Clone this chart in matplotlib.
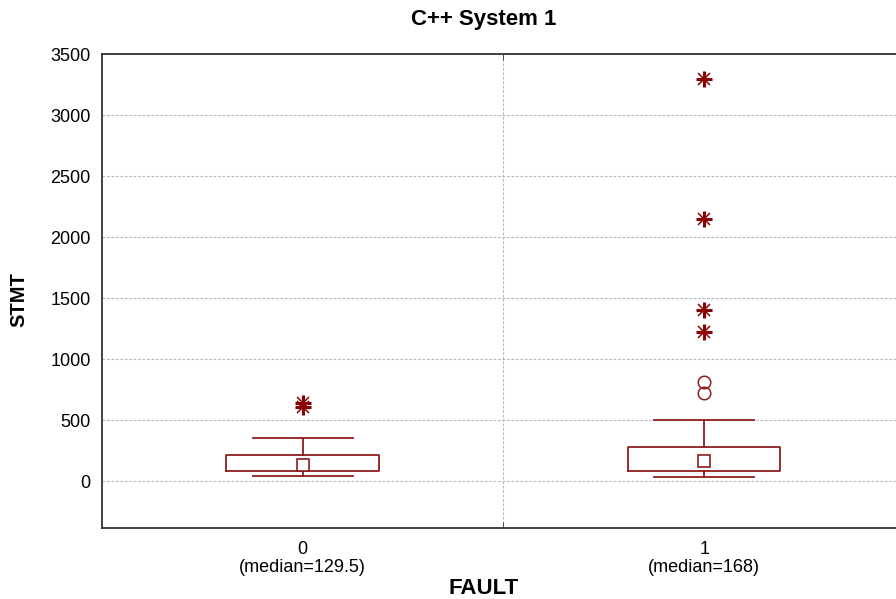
import numpy as np
import matplotlib.pyplot as plt
from matplotlib.ticker import FixedLocator

plt.rcParams['font.family'] = ['Liberation Sans', 'DejaVu Sans']

# box summary for STMT split by FAULT
groups = ['0', '1']
medians = [129.5, 168]
q1 = [84, 82]
q3 = [211, 281]
whisker_lo = [44, 35]
whisker_hi = [355, 500]
# outliers (circles) and extremes (asterisks) per group
outliers = [[], [719, 814]]
extremes = [[605, 640], [1224, 1402, 2148, 3295]]

red = '#8f1d1d'
dark_red = '#8b0000'

fig = plt.figure(figsize=(8.96, 5.99), dpi=100)
ax = fig.add_axes([0.1138, 0.1185, 0.8962, 0.7913])

stats = []
for i, g in enumerate(groups):
    stats.append(dict(med=medians[i], q1=q1[i], q3=q3[i],
                      whislo=whisker_lo[i], whishi=whisker_hi[i],
                      mean=medians[i], fliers=[], label=g))

pos = np.arange(len(groups))
ax.bxp(stats, positions=pos, widths=0.38, capwidths=0.25,
       showmeans=True, showfliers=False,
       boxprops=dict(color=red, linewidth=1.3),
       whiskerprops=dict(color=red, linewidth=1.3),
       capprops=dict(color=red, linewidth=1.3),
       medianprops=dict(linewidth=0),
       meanprops=dict(marker='s', markersize=8, markerfacecolor='white',
                      markeredgecolor=red, markeredgewidth=1.2))

for i in range(len(groups)):
    if outliers[i]:
        ax.plot([pos[i]] * len(outliers[i]), outliers[i], 'o', ms=9,
                mfc='none', mec=red, mew=1.1, zorder=4)
    if extremes[i]:
        xs = [pos[i]] * len(extremes[i])
        # asterisk: heavy cross plus thin diagonals
        ax.plot(xs, extremes[i], '+', ms=11, color=dark_red, mew=2.2, zorder=4)
        ax.plot(xs, extremes[i], 'x', ms=8, color=dark_red, mew=1.1, zorder=4)

ax.set_xlim(-0.5, 1.5)
ax.set_ylim(-385, 3500)
ax.set_yticks(np.arange(0, 3501, 500))

ax.set_xticks(pos)
ax.set_xticklabels([f'{g}\n(median={m:g})' for g, m in zip(groups, medians)],
                   fontsize=13, linespacing=1.15)
ax.xaxis.set_minor_locator(FixedLocator([0.5]))
ax.tick_params(axis='x', which='major', length=0, pad=9)
ax.tick_params(axis='x', which='minor', direction='in', length=4,
               top=True, color='#333333')
ax.tick_params(axis='y', length=0, pad=8, labelsize=13)

ax.grid(axis='y', which='major', color='#b8b8b8', ls=(0, (2.5, 1.5)), lw=0.8)
ax.grid(axis='x', which='minor', color='#b8b8b8', ls=(0, (2.5, 1.5)), lw=0.8)
ax.set_axisbelow(True)

for side in ['left', 'bottom', 'top', 'right']:
    ax.spines[side].set_color('#333333')
    ax.spines[side].set_linewidth(1.3)

fig.text(483.5 / 896, 1 - 20 / 599, 'C++ System 1', fontsize=16,
         fontweight='bold', ha='center', va='center')
ax.set_xlabel('FAULT', fontsize=16, fontweight='bold', va='center')
ax.xaxis.set_label_coords(0.475, -0.127)
ax.set_ylabel('STMT', fontsize=14.5, fontweight='bold', va='center')
ax.yaxis.set_label_coords(-0.1034, 0.482)

fig.savefig('out.png', dpi=100)
